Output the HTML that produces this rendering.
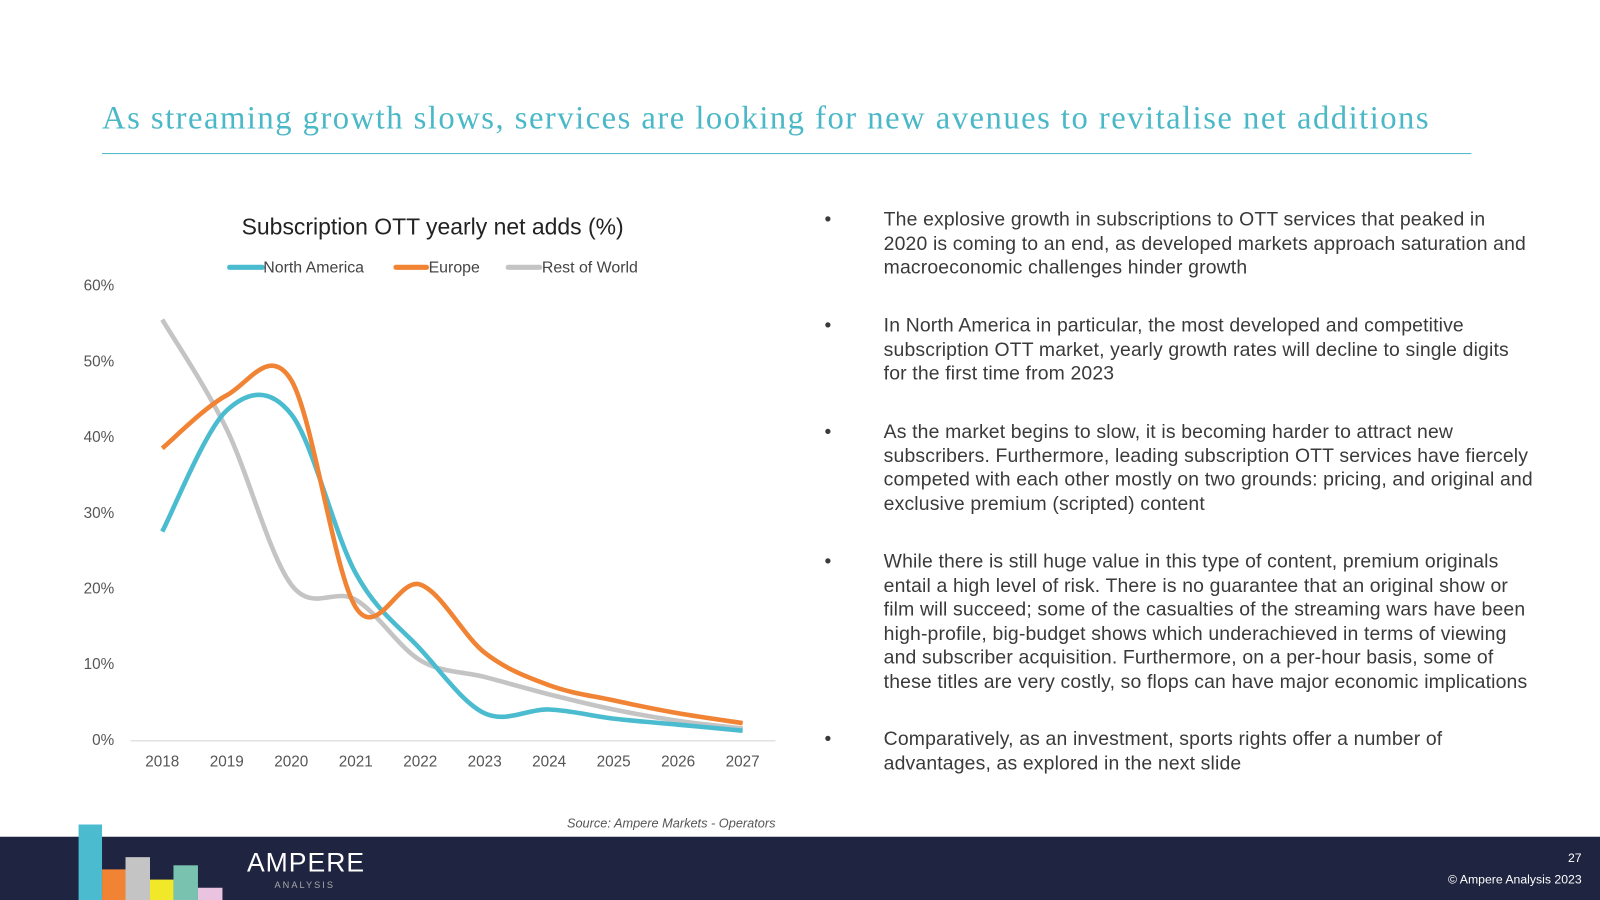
<!DOCTYPE html>
<html><head><meta charset="utf-8"><style>
html,body{margin:0;padding:0;width:1600px;height:900px;overflow:hidden;background:#fff}
#wrap{position:absolute;left:0;top:0;width:1568px;height:882px;transform:scale(1.020408);transform-origin:0 0;font-family:"Liberation Sans",sans-serif}
.abs{position:absolute}
#title{left:100px;top:97px;font-family:"Liberation Serif",serif;font-size:32px;letter-spacing:1.45px;color:#4bb8c8;white-space:nowrap}
#rule{left:100px;top:150px;width:1342px;height:1px;background:#4bb8c8}
.b{position:absolute;left:808px;width:740px;font-size:19px;letter-spacing:0.15px;line-height:23.5px;color:#3a3a3a;white-space:nowrap}
.b span.dot{position:absolute;left:0;top:0}
.b div{margin-left:58px}
#footer{left:0;top:820px;width:1568px;height:62px;background:#1f2440}
</style></head><body><div id="wrap">
<div class="abs" id="title">As streaming growth slows, services are looking for new avenues to revitalise net additions</div>
<div class="abs" id="rule"></div>
<svg class="abs" style="left:0;top:0" width="800" height="820" id="chart">
<text x="424" y="230" font-size="22.5" fill="#222" text-anchor="middle">Subscription OTT yearly net adds (%)</text>
<g font-size="15.6" fill="#444">
<g><line x1="225" y1="262" x2="257" y2="262" stroke="#4bbccf" stroke-width="5" stroke-linecap="round"/><text x="258" y="267">North America</text></g>
<g><line x1="388" y1="262" x2="418" y2="262" stroke="#f08434" stroke-width="5" stroke-linecap="round"/><text x="420" y="267">Europe</text></g>
<g><line x1="498" y1="262" x2="529" y2="262" stroke="#c4c4c4" stroke-width="5" stroke-linecap="round"/><text x="531" y="267">Rest of World</text></g>
</g>
<line x1="128" y1="726" x2="760" y2="726" stroke="#d9d9d9" stroke-width="1"/>
<g id="yt" font-size="15" fill="#555" text-anchor="end"></g>
<g id="xt" font-size="15" fill="#555" text-anchor="middle"></g>
<g id="series"></g>
<text x="760" y="811" font-size="12.5" font-style="italic" fill="#555" text-anchor="end">Source: Ampere Markets - Operators</text>
</svg>
<div class="b" style="top:204px"><span class="dot">•</span><div>The explosive growth in subscriptions to OTT services that peaked in<br>2020 is coming to an end, as developed markets approach saturation and<br>macroeconomic challenges hinder growth</div></div>
<div class="b" style="top:308px"><span class="dot">•</span><div>In North America in particular, the most developed and competitive<br>subscription OTT market, yearly growth rates will decline to single digits<br>for the first time from 2023</div></div>
<div class="b" style="top:412px"><span class="dot">•</span><div>As the market begins to slow, it is becoming harder to attract new<br>subscribers. Furthermore, leading subscription OTT services have fiercely<br>competed with each other mostly on two grounds: pricing, and original and<br>exclusive premium (scripted) content</div></div>
<div class="b" style="top:539px"><span class="dot">•</span><div>While there is still huge value in this type of content, premium originals<br>entail a high level of risk. There is no guarantee that an original show or<br>film will succeed; some of the casualties of the streaming wars have been<br>high-profile, big-budget shows which underachieved in terms of viewing<br>and subscriber acquisition. Furthermore, on a per-hour basis, some of<br>these titles are very costly, so flops can have major economic implications</div></div>
<div class="b" style="top:713px"><span class="dot">•</span><div>Comparatively, as an investment, sports rights offer a number of<br>advantages, as explored in the next slide</div></div>
<div class="abs" id="footer"></div>
<div>
<div class="abs" style="left:77px;top:808px;width:23px;height:74px;background:#4bbccf"></div>
<div class="abs" style="left:100px;top:852px;width:23px;height:30px;background:#f08434"></div>
<div class="abs" style="left:123px;top:840px;width:24px;height:42px;background:#c4c4c4"></div>
<div class="abs" style="left:147px;top:862px;width:23px;height:20px;background:#f2e82a"></div>
<div class="abs" style="left:170px;top:848px;width:24px;height:34px;background:#79c2b0"></div>
<div class="abs" style="left:194px;top:870px;width:24px;height:12px;background:#e9c3df"></div>
</div>
<div class="abs" style="left:242px;top:830px;font-size:26px;color:#fff;letter-spacing:1px">AMPERE</div>
<div class="abs" style="left:269px;top:862px;font-size:9px;color:#aaa;letter-spacing:2px">ANALYSIS</div>
<div class="abs" style="right:18px;top:834px;font-size:12px;color:#fff">27</div>
<div class="abs" style="right:18px;top:855px;font-size:12px;color:#fff">© Ampere Analysis 2023</div>
</div>
<script>
const years=["2018","2019","2020","2021","2022","2023","2024","2025","2026","2027"];
const yTicks=[0,10,20,30,40,50,60];
const northAmerica=[27.5,43.5,43,22,12,3.5,4,2.8,2,1.2];
const europe=[38.5,45.5,47.5,17.5,20.5,11.5,7.2,5.2,3.5,2.2];
const restOfWorld=[55.5,41,20.5,18.5,10.5,8.3,6,4,2.5,1.5];
const NS="http://www.w3.org/2000/svg";
const X=i=>159+i*63.2, Y=v=>725-v*7.42;
const yt=document.getElementById('yt'),xt=document.getElementById('xt'),sg=document.getElementById('series');
yTicks.forEach(v=>{const t=document.createElementNS(NS,'text');t.setAttribute('x',112);t.setAttribute('y',Y(v)+5);t.textContent=v+'%';


yt.appendChild(t);});
years.forEach((y,i)=>{const t=document.createElementNS(NS,'text');t.setAttribute('x',X(i));t.setAttribute('y',751);t.textContent=y;


xt.appendChild(t);});
function path(d){const p=d.map((v,i)=>[X(i),Y(v)]);let s='M'+p[0][0]+','+p[0][1];
for(let i=0;i<p.length-1;i++){const p0=p[i-1]||p[i],p1=p[i],p2=p[i+1],p3=p[i+2]||p[i+1];
const c1=[p1[0]+(p2[0]-p0[0])/6,p1[1]+(p2[1]-p0[1])/6],c2=[p2[0]-(p3[0]-p1[0])/6,p2[1]-(p3[1]-p1[1])/6];
s+=' C'+c1+' '+c2+' '+p2;}return s;}
[[restOfWorld,'#c4c4c4','series-rest-of-world'],[northAmerica,'#4bbccf','series-north-america'],[europe,'#f08434','series-europe']].forEach(([d,c,n])=>{
const e=document.createElementNS(NS,'path');e.setAttribute('d',path(d));e.setAttribute('fill','none');e.setAttribute('stroke',c);e.setAttribute('stroke-width','4.5');e.setAttribute('stroke-linejoin','round');


sg.appendChild(e);});
</script>
</body></html>
